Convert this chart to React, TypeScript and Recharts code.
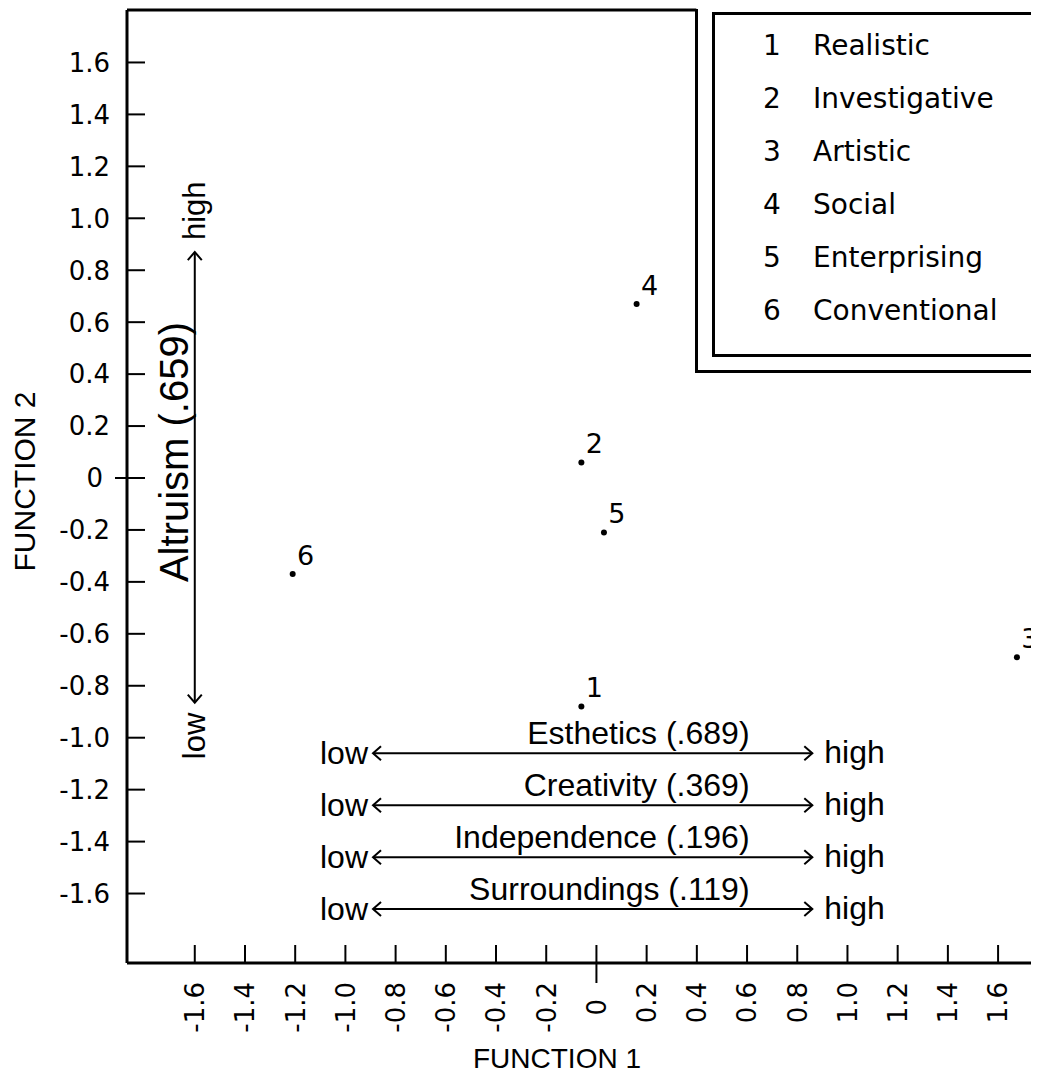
import { ScatterChart, Scatter, XAxis, YAxis, ReferenceLine, ReferenceDot, Legend, Label } from "recharts";

// RIASEC groups and their centroids on the two discriminant functions
const codes = ["1", "2", "3", "4", "5", "6"];
const groups = ["Realistic", "Investigative", "Artistic", "Social", "Enterprising", "Conventional"];
const function1 = [-0.06, -0.06, 1.675, 0.16, 0.03, -1.21];
const function2 = [-0.88, 0.06, -0.69, 0.67, -0.21, -0.37];

const xTicks = [-1.6, -1.4, -1.2, -1.0, -0.8, -0.6, -0.4, -0.2, 0, 0.2, 0.4, 0.6, 0.8, 1.0, 1.2, 1.4, 1.6];
const yTicks = [1.6, 1.4, 1.2, 1.0, 0.8, 0.6, 0.4, 0.2, 0, -0.2, -0.4, -0.6, -0.8, -1.0, -1.2, -1.4, -1.6];

const factors = ["Esthetics (.689)", "Creativity (.369)", "Independence (.196)", "Surroundings (.119)"];
const altruism = "Altruism (.659)";

const points = codes.map((code, i) => ({ code, x: function1[i], y: function2[i] }));

const X_MIN = -1.87;
const X_MAX = 1.763;
const Y_MIN = -1.8675;
const Y_MAX = 1.802;

// annotation placement (data units)
const ROWS = [-1.06, -1.26, -1.46, -1.66];
const ARROW_L = -0.89;
const ARROW_R = 0.86;
const LABEL_END = 0.61;
const ALT_X = -1.6;
const ALT_TOP = 0.87;
const ALT_BOTTOM = -0.865;
const ALT_MID = 0.1;
const FRAME_END = 0.398;

const TICK_FONT = '"DejaVu Sans", sans-serif';
const NOTE_FONT = '"Liberation Sans", Arial, sans-serif';

const fmt = (v: number) => (v === 0 ? "0" : v.toFixed(1));

const YTick = (props: any) => {
  const { x, y, payload } = props;
  const zero = payload.value === 0;
  return (
    <g>
      <line x1={zero ? x - 12 : x} y1={y} x2={x + 18} y2={y} stroke="#000" strokeWidth={2} />
      <text x={zero ? x - 24 : x - 17} y={y} dy="0.36em" textAnchor="end" fontFamily={TICK_FONT} fontSize={26} fill="#000">
        {fmt(payload.value)}
      </text>
    </g>
  );
};

const XTick = (props: any) => {
  const { x, y, payload } = props;
  const zero = payload.value === 0;
  const ty = zero ? y + 36 : y + 19;
  return (
    <g>
      <line x1={x} y1={y - 18} x2={x} y2={zero ? y + 20 : y} stroke="#000" strokeWidth={2} />
      <text x={x} y={ty} dy="0.36em" textAnchor="end" transform={`rotate(-90 ${x} ${ty})`} fontFamily={TICK_FONT} fontSize={26} fill="#000">
        {fmt(payload.value)}
      </text>
    </g>
  );
};

const PointMark = (props: any) => {
  const { cx, cy, payload } = props;
  return (
    <g>
      <circle cx={cx} cy={cy} r={3} fill="#000" />
      <text x={cx + 13} y={cy - 19} dy="0.36em" textAnchor="middle" fontFamily={TICK_FONT} fontSize={27} fill="#000">
        {payload.code}
      </text>
    </g>
  );
};

const chevron = (dir: string) => (p: any) => {
  const { cx, cy } = p;
  let d = "";
  if (dir === "right") d = `M${cx - 8},${cy - 7}L${cx},${cy}L${cx - 8},${cy + 7}`;
  if (dir === "left") d = `M${cx + 8},${cy - 7}L${cx},${cy}L${cx + 8},${cy + 7}`;
  if (dir === "up") d = `M${cx - 7},${cy + 8}L${cx},${cy}L${cx + 7},${cy + 8}`;
  if (dir === "down") d = `M${cx - 7},${cy - 8}L${cx},${cy}L${cx + 7},${cy - 8}`;
  return <path d={d} fill="none" stroke="#000" strokeWidth={2} />;
};

const note =
  (text: string, dx: number, dy: number, anchor: string, size: number, rotate = false) =>
  (p: any) => {
    const x = p.cx + dx;
    const y = p.cy + dy;
    return (
      <text
        x={x}
        y={y}
        textAnchor={anchor}
        transform={rotate ? `rotate(-90 ${p.cx} ${p.cy})` : undefined}
        fontFamily={NOTE_FONT}
        fontSize={size}
        fill="#000"
      >
        {text}
      </text>
    );
  };

const renderKey = () => (
  <div
    style={{
      height: 364,
      boxSizing: "border-box",
      borderLeft: "3px solid #000",
      borderBottom: "3px solid #000",
      background: "#fff",
      paddingTop: 3,
      paddingLeft: 14,
    }}
  >
    <div
      style={{
        height: 345,
        boxSizing: "border-box",
        borderLeft: "3px solid #000",
        borderTop: "3px solid #000",
        borderBottom: "3px solid #000",
        paddingTop: 4,
      }}
    >
      {groups.map((g, i) => (
        <div key={g} style={{ height: 53, lineHeight: "53px", fontFamily: TICK_FONT, fontSize: 28, whiteSpace: "nowrap", color: "#000" }}>
          <span style={{ display: "inline-block", width: 25, marginLeft: 45, textAlign: "center" }}>{codes[i]}</span>
          <span style={{ marginLeft: 28.5 }}>{g}</span>
        </div>
      ))}
    </div>
  </div>
);

export default function App() {
  return (
    <ScatterChart width={1031} height={1081} margin={{ top: 2, right: 0, bottom: 0, left: 0 }}>
      <XAxis
        type="number"
        dataKey="x"
        domain={[X_MIN, X_MAX]}
        allowDataOverflow
        ticks={xTicks}
        interval={0}
        height={126}
        tickSize={0}
        tickMargin={0}
        tickLine={false}
        axisLine={{ stroke: "#000", strokeWidth: 3 }}
        tick={<XTick />}
      >
        <Label
          content={(p: any) => (
            <text
              x={p.viewBox.x + p.viewBox.width / 2 - 26}
              y={p.viewBox.y + 95}
              dy="0.36em"
              textAnchor="middle"
              fontFamily={NOTE_FONT}
              fontSize={28}
              fill="#000"
            >
              FUNCTION 1
            </text>
          )}
        />
      </XAxis>
      <YAxis
        type="number"
        dataKey="y"
        domain={[Y_MIN, Y_MAX]}
        allowDataOverflow
        ticks={yTicks}
        interval={0}
        width={119}
        tickSize={0}
        tickMargin={0}
        tickLine={false}
        axisLine={{ stroke: "#000", strokeWidth: 3 }}
        tick={<YTick />}
      >
        <Label
          content={(p: any) => {
            const x = 16;
            const y = p.viewBox.y + p.viewBox.height / 2 - 5;
            return (
              <text x={x} y={y} dy="0.36em" textAnchor="middle" transform={`rotate(-90 ${x} ${y})`} fontFamily={NOTE_FONT} fontSize={30} fill="#000">
                FUNCTION 2
              </text>
            );
          }}
        />
      </YAxis>

      <ReferenceLine segment={[{ x: X_MIN, y: Y_MAX }, { x: FRAME_END, y: Y_MAX }]} stroke="#000" strokeWidth={3} />

      {/* Altruism arrow */}
      <ReferenceLine segment={[{ x: ALT_X, y: ALT_TOP }, { x: ALT_X, y: ALT_BOTTOM }]} stroke="#000" strokeWidth={2} />
      <ReferenceDot x={ALT_X} y={ALT_TOP} shape={chevron("up")} />
      <ReferenceDot x={ALT_X} y={ALT_BOTTOM} shape={chevron("down")} />
      <ReferenceDot x={ALT_X} y={ALT_TOP} shape={note("high", 12, 10, "start", 31, true)} />
      <ReferenceDot x={ALT_X} y={ALT_BOTTOM} shape={note("low", -10, 10, "end", 31, true)} />
      <ReferenceDot x={ALT_X} y={ALT_MID} shape={note(altruism, 0, -7, "middle", 40, true)} />

      {/* value factor arrows */}
      {factors.map((f, i) => (
        <ReferenceLine key={`s${f}`} segment={[{ x: ARROW_L, y: ROWS[i] }, { x: ARROW_R, y: ROWS[i] }]} stroke="#000" strokeWidth={2} />
      ))}
      {factors.map((f, i) => (
        <ReferenceDot key={`l${f}`} x={ARROW_L} y={ROWS[i]} shape={chevron("left")} />
      ))}
      {factors.map((f, i) => (
        <ReferenceDot key={`r${f}`} x={ARROW_R} y={ROWS[i]} shape={chevron("right")} />
      ))}
      {factors.map((f, i) => (
        <ReferenceDot key={`lo${f}`} x={ARROW_L} y={ROWS[i]} shape={note("low", -5, 11, "end", 32)} />
      ))}
      {factors.map((f, i) => (
        <ReferenceDot key={`hi${f}`} x={ARROW_R} y={ROWS[i]} shape={note("high", 12, 10, "start", 32)} />
      ))}
      {factors.map((f, i) => (
        <ReferenceDot key={`t${f}`} x={LABEL_END} y={ROWS[i]} shape={note(f, 0, -9, "end", 32)} />
      ))}

      <Scatter data={points} shape={<PointMark />} isAnimationActive={false} />

      <Legend
        layout="horizontal"
        verticalAlign="middle"
        align="center"
        content={renderKey}
        wrapperStyle={{ left: 686.5, top: 0.5, width: 344.5, height: 364 }}
      />
    </ScatterChart>
  );
}
